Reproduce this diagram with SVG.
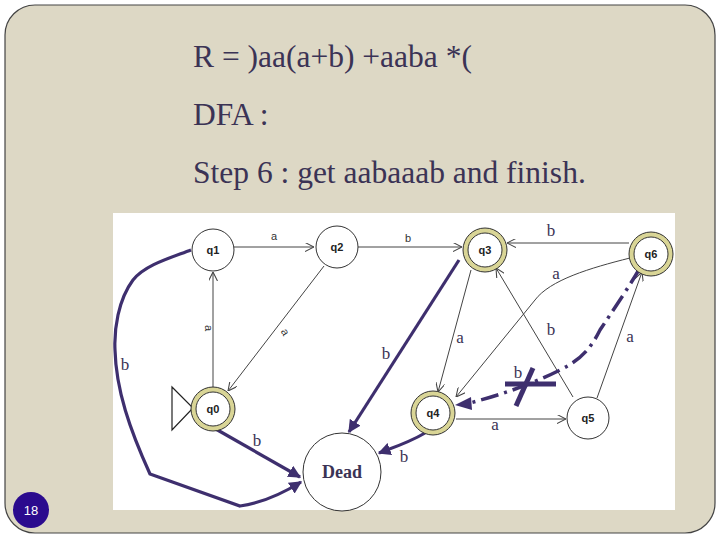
<svg xmlns="http://www.w3.org/2000/svg" width="720" height="540" viewBox="0 0 720 540">
<defs>
<style>
.title{font-family:"Liberation Serif",serif;font-size:31.5px;fill:#3b3355}
.nl{font-family:"Liberation Sans",sans-serif;font-size:11px;font-weight:bold;fill:#222;text-anchor:middle}
.sl{font-family:"Liberation Sans",sans-serif;font-size:11px;fill:#333;text-anchor:middle}
.bl{font-family:"Liberation Serif",serif;font-size:17px;fill:#3b3355;text-anchor:middle}
.thin{fill:none;stroke:#444;stroke-width:1}
.thick{fill:none;stroke:#3e2f6e;stroke-width:3.2}
.st{fill:white;stroke:#333;stroke-width:1}
.ring{fill:white;stroke:#d9d596;stroke-width:5}
.rl{fill:none;stroke:#333;stroke-width:1}
</style>
<marker id="ah" viewBox="0 0 10 10" refX="10" refY="5" markerWidth="9" markerHeight="9" markerUnits="userSpaceOnUse" orient="auto"><path d="M0,0 L10,5 L0,10" fill="none" stroke="#444" stroke-width="1.2"/></marker>
<marker id="ahb" viewBox="0 0 10 10" refX="9" refY="5" markerWidth="4" markerHeight="4" orient="auto"><path d="M0,0 L10,5 L0,10 z" fill="#3e2f6e"/></marker>
</defs>
<rect x="0" y="0" width="720" height="540" fill="#ffffff"/>
<rect x="5" y="5" width="710" height="528" rx="30" fill="#ddd8c5" stroke="#444" stroke-width="1.2"/>
<text class="title" x="193" y="67">R = )aa(a+b) +aaba *(</text>
<text class="title" x="193" y="125">DFA :</text>
<text class="title" x="193" y="183">Step 6 : get aabaaab and finish.</text>
<rect x="113" y="213" width="562" height="297" fill="#ffffff"/>
<g id="connectors">
<line class="thin" x1="234" y1="247" x2="314" y2="247" marker-end="url(#ah)"/>
<line class="thin" x1="358" y1="247" x2="462" y2="247" marker-end="url(#ah)"/>
<line class="thin" x1="629" y1="243" x2="507" y2="243" marker-end="url(#ah)"/>
<path class="thin" d="M630,258 C590,268 550,280 535,300 L456,397" marker-end="url(#ah)"/>
<line class="thin" x1="471" y1="270" x2="438" y2="392" marker-end="url(#ah)"/>
<line class="thin" x1="573" y1="397" x2="496" y2="268" marker-end="url(#ah)"/>
<line class="thin" x1="597" y1="398" x2="642" y2="272" marker-end="url(#ah)"/>
<line class="thin" x1="456" y1="419" x2="566" y2="419" marker-end="url(#ah)"/>
<line class="thin" x1="213" y1="388" x2="213" y2="272" marker-end="url(#ah)"/>
<line class="thin" x1="324" y1="266" x2="228" y2="391" marker-end="url(#ah)"/>
<path class="thick" d="M191,250 C170,258 145,265 133,280 C118,300 114,330 115,350 C116,390 130,430 150,474 L240,506 C262,503 285,492 301,482" marker-end="url(#ahb)"/>
<line class="thick" x1="214" y1="428" x2="300" y2="477" marker-end="url(#ahb)"/>
<line class="thick" x1="459" y1="260" x2="349" y2="432" marker-end="url(#ahb)"/>
<path class="thick" d="M425,433 C410,442 395,447 379,453" marker-end="url(#ahb)"/>
<path fill="none" stroke="#3e2f6e" stroke-width="3.5" stroke-dasharray="18,6,3,6" d="M640,268 C630,285 620,300 600,330 C590,350 580,360 560,370 C530,385 500,395 470,403"/>
<path d="M455,405 L471,397 L472,410 z" fill="#3e2f6e"/>
<line x1="505" y1="384" x2="556" y2="384" stroke="#3e2f6e" stroke-width="5"/>
<line x1="516" y1="406" x2="533" y2="368" stroke="#3e2f6e" stroke-width="5"/>
</g>
<g id="labels">
<text class="sl" x="274" y="240">a</text>
<text class="sl" x="408" y="242">b</text>
<text class="bl" x="551" y="236">b</text>
<text class="bl" x="556" y="279">a</text>
<text class="bl" x="460" y="343">a</text>
<text class="bl" x="551" y="335">b</text>
<text class="bl" x="630" y="342">a</text>
<text class="bl" x="495" y="430">a</text>
<text class="sl" x="205" y="328" transform="rotate(90 205 328)">a</text>
<text class="sl" x="282" y="334" transform="rotate(60 282 334)">a</text>
<text class="bl" x="125" y="370">b</text>
<text class="bl" x="257" y="446">b</text>
<text class="bl" x="386" y="359">b</text>
<text class="bl" x="404" y="462">b</text>
<text class="bl" x="518" y="378">b</text>
</g>
<g id="start"><path d="M172,387 L193,408 L172,430 z" fill="none" stroke="#222" stroke-width="1.2"/></g>
<g id="q1"><circle class="st" cx="213" cy="250" r="21"/><text class="nl" x="213" y="254">q1</text></g>
<g id="q2"><circle class="st" cx="337" cy="247" r="21"/><text class="nl" x="337" y="251">q2</text></g>
<g id="q3"><circle class="ring" cx="485" cy="250" r="19.5"/><circle class="rl" cx="485" cy="250" r="22"/><circle class="rl" cx="485" cy="250" r="17"/><text class="nl" x="485" y="254">q3</text></g>
<g id="q6"><circle class="ring" cx="651" cy="254" r="19.5"/><circle class="rl" cx="651" cy="254" r="22"/><circle class="rl" cx="651" cy="254" r="17"/><text class="nl" x="651" y="258">q6</text></g>
<g id="q0"><circle class="ring" cx="213" cy="409" r="19.5"/><circle class="rl" cx="213" cy="409" r="22"/><circle class="rl" cx="213" cy="409" r="17"/><text class="nl" x="213" y="413">q0</text></g>
<g id="q4"><circle class="ring" cx="433" cy="413" r="19.5"/><circle class="rl" cx="433" cy="413" r="22"/><circle class="rl" cx="433" cy="413" r="17"/><text class="nl" x="433" y="417">q4</text></g>
<g id="q5"><circle class="st" cx="588" cy="418" r="21"/><text class="nl" x="588" y="422">q5</text></g>
<g id="dead"><circle class="st" cx="342" cy="472" r="39"/><text x="342" y="478" text-anchor="middle" font-family="Liberation Serif,serif" font-weight="bold" font-size="18" fill="#3b3355">Dead</text></g>
<g id="page"><circle cx="31" cy="510" r="18" fill="#2b0b8e"/><text x="31" y="515" text-anchor="middle" font-family="Liberation Sans,sans-serif" font-size="13" fill="#ffffff">18</text></g>
</svg>
